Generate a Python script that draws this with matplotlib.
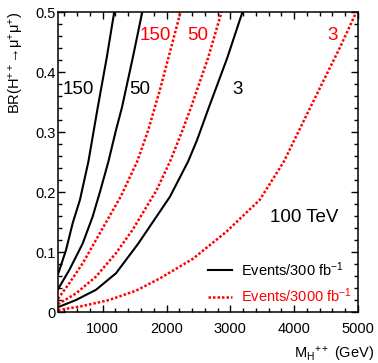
import matplotlib
matplotlib.use('Agg')
import matplotlib.pyplot as plt
from matplotlib.lines import Line2D
import numpy as np

plt.rcParams['font.family'] = ['Liberation Sans', 'DejaVu Sans']
plt.rcParams['mathtext.fontset'] = 'custom'
plt.rcParams['mathtext.rm'] = 'Liberation Sans'
plt.rcParams['mathtext.it'] = 'Liberation Sans:italic'

# curves: mass (GeV) and BR
m_b150 = [300, 425, 530, 644, 775, 921, 1062, 1181]
br_b150 = [0.063, 0.103, 0.148, 0.187, 0.25, 0.34, 0.423, 0.5]

m_b50 = [300, 477, 686, 843, 957, 1088, 1208, 1300, 1470, 1620]
br_b50 = [0.038, 0.07, 0.114, 0.159, 0.2, 0.25, 0.303, 0.34, 0.423, 0.5]

m_b3 = [300, 582, 895, 1208, 1557, 2053, 2339, 2480, 2660, 2950, 3190]
br_b3 = [0.008, 0.02, 0.037, 0.0645, 0.114, 0.192, 0.251, 0.287, 0.34, 0.423, 0.5]

m_r150 = [300, 477, 686, 895, 1103, 1286, 1545, 1713, 1896, 2220]
br_r150 = [0.022, 0.048, 0.081, 0.12, 0.159, 0.193, 0.252, 0.303, 0.37, 0.5]

m_r50 = [300, 582, 895, 1208, 1469, 1844, 2060, 2251, 2380, 2650, 2862]
br_r50 = [0.013, 0.031, 0.059, 0.098, 0.137, 0.203, 0.252, 0.303, 0.34, 0.423, 0.5]

m_r3 = [300, 686, 1103, 1521, 1896, 2418, 2940, 3461, 3840, 4170, 4480, 4713, 4974]
br_r3 = [0.003, 0.01, 0.02, 0.0355, 0.056, 0.089, 0.134, 0.187, 0.251, 0.323, 0.39, 0.44, 0.5]

xticks = [1000, 2000, 3000, 4000, 5000]
yticks = [0, 0.1, 0.2, 0.3, 0.4, 0.5]
xticklabels = ['1000', '2000', '3000', '4000', '5000']
yticklabels = ['0', '0.1', '0.2', '0.3', '0.4', '0.5']

RED = '#ff0000'
dots = (0, (1, 0.8))

fig = plt.figure(figsize=(3.78, 3.63), dpi=100)
ax = fig.add_axes([58/378, 51/363, 300/378, 300/363])

for m, br in [(m_b150, br_b150), (m_b50, br_b50), (m_b3, br_b3)]:
    ax.plot(m, br, color='black', lw=1.5)
for m, br in [(m_r150, br_r150), (m_r50, br_r50), (m_r3, br_r3)]:
    ax.plot(m, br, color=RED, lw=1.8, linestyle=dots)

ax.set_xlim(300, 5000)
ax.set_ylim(0, 0.5)
ax.set_xticks(xticks)
ax.set_xticklabels(xticklabels)
ax.set_yticks(yticks)
ax.set_yticklabels(yticklabels)
ax.set_xticks(np.arange(400, 5000, 200), minor=True)
ax.set_yticks(np.arange(0, 0.5, 0.02), minor=True)
ax.tick_params(which='both', direction='in', top=True, right=True, width=1)
ax.tick_params(which='major', length=5, labelsize=10.5)
ax.tick_params(which='minor', length=3)
ax.tick_params(axis='x', which='major', pad=7)
ax.tick_params(axis='y', which='major', pad=1.5)
for s in ax.spines.values():
    s.set_linewidth(1.1)

# curve labels
ax.text(613, 0.37, '150', fontsize=13.5, ha='center', va='center')
ax.text(1583, 0.37, '50', fontsize=13.5, ha='center', va='center')
ax.text(3109, 0.37, '3', fontsize=13.5, ha='center', va='center')
ax.text(1826, 0.46, '150', fontsize=13.5, ha='center', va='center', color=RED)
ax.text(2483, 0.46, '50', fontsize=13.5, ha='center', va='center', color=RED)
ax.text(4604, 0.46, '3', fontsize=13.5, ha='center', va='center', color=RED)
ax.text(4158, 0.158, '100 TeV', fontsize=13.5, ha='center', va='center')

handles = [Line2D([], [], color='black', lw=1.5),
           Line2D([], [], color=RED, lw=1.8, linestyle=dots)]
leg = ax.legend(handles, ['Events/300 fb$^{-1}$', 'Events/3000 fb$^{-1}$'],
                loc='center left', bbox_to_anchor=(0.5, 0.098), frameon=False,
                fontsize=10.5, handlelength=1.65, handletextpad=0.6,
                labelspacing=0.55, borderpad=0, borderaxespad=0)
leg.get_texts()[1].set_color(RED)

ax.text(-0.138, 1.0, 'BR(H$^{++}$→μ$^{+}$μ$^{+}$)', rotation=90, fontsize=10.5,
        ha='center', va='top', transform=ax.transAxes)
ax.text(1.053, -0.11, 'M$_{\\mathrm{H}}$$^{++}$ (GeV)', fontsize=10.5,
        ha='right', va='top', transform=ax.transAxes)

fig.savefig('out.png', dpi=100)
